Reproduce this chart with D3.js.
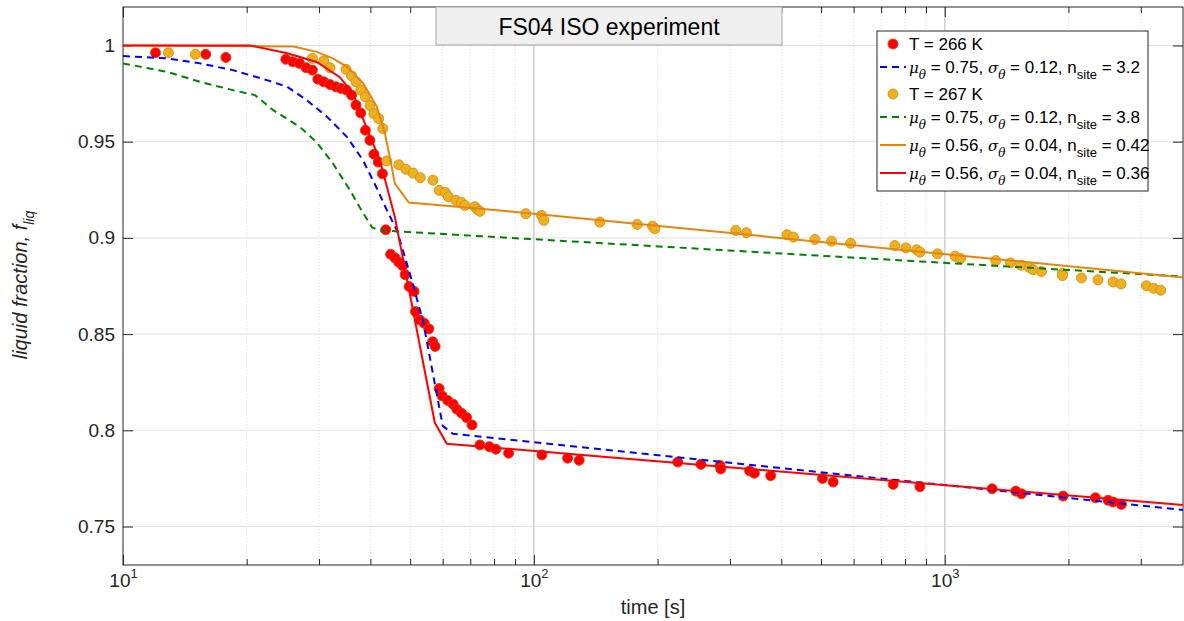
<!DOCTYPE html>
<html>
<head>
<meta charset="utf-8">
<script src="https://cdn.jsdelivr.net/npm/d3@7"></script>
<style>
body{margin:0;background:#fff;}
svg{display:block;font-family:"Liberation Sans",Arial,sans-serif;}
</style>
</head>
<body>
<div id="container"></div>
<script>
// measured points, T = 266 K
const t266 = [12.0,15.9,17.8,24.9,25.9,26.9,27.9,28.9,29.8,30.8,31.9,33.0,33.9,35.0,36.0,36.9,37.9,38.9,39.9,40.8,41.8,42.8,43.6,44.8,45.9,46.9,47.9,48.6,49.7,51.1,51.5,52.8,54.1,55.5,56.7,57.5,58.8,59.8,61.7,63.6,64.9,66.7,68.6,70.7,73.9,77.9,80.8,86.8,104.6,120.8,128.9,224,255,284,285,335,344,377,504,535,749,870,1304,1488,1537,1941,2326,2497,2568,2691];
const f266 = [0.9962,0.9954,0.9938,0.9928,0.9915,0.9907,0.9884,0.9872,0.9825,0.9811,0.9797,0.9785,0.9777,0.9768,0.9742,0.9690,0.9649,0.9559,0.9507,0.9435,0.9394,0.9333,0.9042,0.8915,0.8896,0.8873,0.8856,0.8809,0.8747,0.8722,0.8617,0.8573,0.8556,0.8527,0.8460,0.8436,0.8217,0.8179,0.8155,0.8136,0.8110,0.8089,0.8066,0.8028,0.7924,0.7915,0.7902,0.7881,0.7872,0.7855,0.7844,0.7835,0.7823,0.7817,0.7799,0.7789,0.7777,0.7764,0.7750,0.7731,0.7719,0.7707,0.7696,0.7684,0.7670,0.7658,0.7649,0.7636,0.7627,0.7615];

// measured points, T = 267 K
const t267 = [12.9,15.0,28.9,30.8,31.9,34.9,36.0,36.9,37.9,38.9,39.9,40.8,41.9,42.9,43.8,46.9,48.8,50.8,52.9,56.8,58.8,60.9,61.9,64.6,66.7,67.9,71.8,72.8,73.9,95.6,104.4,105.8,144.7,178.4,194.5,197.0,310,329,413,428,483,530,590,756,804,854,870,960,1060,1092,1331,1445,1533,1604,1640,1719,1934,1934,2151,2360,2568,2685,3096,3225,3354];
const f267 = [0.9962,0.9954,0.9933,0.9920,0.9884,0.9876,0.9842,0.9811,0.9768,0.9733,0.9688,0.9646,0.9620,0.9568,0.9400,0.9380,0.9357,0.9337,0.9313,0.9300,0.9247,0.9236,0.9214,0.9195,0.9184,0.9169,0.9162,0.9148,0.9138,0.9126,0.9117,0.9091,0.9082,0.9070,0.9061,0.9047,0.9039,0.9027,0.9016,0.9004,0.8992,0.8983,0.8972,0.8960,0.8948,0.8938,0.8926,0.8917,0.8905,0.8893,0.8882,0.8870,0.8858,0.8847,0.8835,0.8825,0.8816,0.8804,0.8792,0.8782,0.8771,0.8761,0.8751,0.8738,0.8728];

// model curves
const tBlueFit = [10,12.8,15.4,18.5,22.4,25.1,28.0,31.4,35.1,38.4,41.5,43.9,46.4,49.9,53.7,57.4,60.0,63.5,3800];
const fBlueFit = [0.9945,0.9933,0.9907,0.9872,0.9820,0.9785,0.9716,0.9629,0.9524,0.9403,0.9257,0.9143,0.9039,0.8815,0.8570,0.8242,0.8023,0.7982,0.7586];
const tGreenFit = [10,12.8,15.4,18.5,20.95,23.2,27.0,29.6,32.4,35.7,37.7,40.4,42.2,3800];
const fGreenFit = [0.9907,0.9863,0.9811,0.9768,0.9742,0.9664,0.9575,0.9497,0.9388,0.9247,0.9158,0.9054,0.9039,0.8799];
const tOrangeFit = [10,26,29.6,32.4,35.1,38.4,41.5,43.4,44.6,45.9,49.6,82.6,3800];
const fOrangeFit = [1.0,0.9995,0.9967,0.9933,0.9889,0.9804,0.9681,0.9544,0.9420,0.9282,0.9184,0.9143,0.8794];
const tRedFit = [10,20.4,25.1,29.6,33.7,36.3,39.2,42.2,45.9,57.4,61.4,3800];
const fRedFit = [1.0,1.0,0.9960,0.9914,0.9835,0.9752,0.9570,0.9403,0.9107,0.8039,0.7930,0.7612];

const yTicks = [0.75,0.8,0.85,0.9,0.95,1];
const xMajor = [10,100,1000];
const xMinor = [20,30,40,50,60,70,80,90,200,300,400,500,600,700,800,900,2000,3000];

const w = 1184, h = 621;
const padL = 123, padR = 1183, padT = 7, padB = 565;

const xScale = d3.scaleLog().domain([10,3800]).range([padL,padR]);
const yScale = d3.scaleLinear().domain([0.73,1.02]).range([padB,padT]);

const svg = d3.select("#container").append("svg")
  .attr("width", w).attr("height", h);

svg.append("defs").append("clipPath").attr("id","plotclip")
  .append("rect").attr("x",padL).attr("y",padT).attr("width",padR-padL).attr("height",padB-padT);

// grid
const grid = svg.append("g");
grid.selectAll(".gy").data(yTicks).enter().append("line")
  .attr("x1",padL).attr("x2",padR)
  .attr("y1",d=>yScale(d)).attr("y2",d=>yScale(d))
  .attr("stroke","#e1e1e1").attr("stroke-width",1);
grid.selectAll(".gxm").data(xMinor).enter().append("line")
  .attr("x1",d=>xScale(d)).attr("x2",d=>xScale(d))
  .attr("y1",padT).attr("y2",padB)
  .attr("stroke","#dadada").attr("stroke-width",1).attr("stroke-dasharray","1,2");
grid.selectAll(".gxM").data(xMajor.slice(1)).enter().append("line")
  .attr("x1",d=>xScale(d)).attr("x2",d=>xScale(d))
  .attr("y1",padT).attr("y2",padB)
  .attr("stroke","#d2d2d2").attr("stroke-width",1.6);

// axes
const axisColor = "#262626";
function styleAxis(g){
  g.select(".domain").remove();
  g.selectAll(".tick line").attr("stroke",axisColor);
  g.selectAll("text").attr("fill",axisColor).attr("font-family","Liberation Sans, Arial, sans-serif");
}
svg.append("g").attr("transform","translate(0,"+padB+")")
  .call(d3.axisBottom(xScale).tickValues(xMinor).tickSize(-6).tickFormat(""))
  .call(styleAxis);
const xAx = svg.append("g").attr("transform","translate(0,"+padB+")")
  .call(d3.axisBottom(xScale).tickValues(xMajor).tickSize(-10).tickPadding(22).tickFormat(d=>"10"))
  .call(styleAxis);
xAx.selectAll(".tick text").attr("font-size",19).attr("dy",null)
  .append("tspan").attr("dy",-9).attr("font-size",13).text(d=>Math.round(Math.log10(d)));
svg.append("g").attr("transform","translate(0,"+padT+")")
  .call(d3.axisTop(xScale).tickValues(xMinor).tickSize(-6).tickFormat(""))
  .call(styleAxis);
svg.append("g").attr("transform","translate(0,"+padT+")")
  .call(d3.axisTop(xScale).tickValues(xMajor).tickSize(-10).tickFormat(""))
  .call(styleAxis);
svg.append("g").attr("transform","translate("+padL+",0)")
  .call(d3.axisLeft(yScale).tickValues(yTicks).tickSize(-10).tickPadding(8).tickFormat(d=>String(d)))
  .call(styleAxis)
  .selectAll("text").attr("font-size",19);
svg.append("g").attr("transform","translate("+padR+",0)")
  .call(d3.axisRight(yScale).tickValues(yTicks).tickSize(-10).tickFormat(""))
  .call(styleAxis);

svg.append("rect").attr("x",padL).attr("y",padT).attr("width",padR-padL).attr("height",padB-padT)
  .attr("fill","none").attr("stroke",axisColor).attr("stroke-width",1);

// series
const plot = svg.append("g").attr("clip-path","url(#plotclip)");
const line = d3.line().x(d=>xScale(d[0])).y(d=>yScale(d[1]));
const zip = (a,b) => a.map((v,i)=>[v,b[i]]);

function dots(ts, fs, fill, stroke){
  plot.append("g").selectAll("circle").data(zip(ts,fs)).enter().append("circle")
    .attr("cx",d=>xScale(d[0])).attr("cy",d=>yScale(d[1])).attr("r",5)
    .attr("fill",fill).attr("stroke",stroke).attr("stroke-width",0.9);
}
function curve(ts, fs, color, dash){
  plot.append("path").datum(zip(ts,fs)).attr("d",line)
    .attr("fill","none").attr("stroke",color).attr("stroke-width",2)
    .attr("stroke-dasharray",dash ? "7,5" : null);
}

const redDot = "#ff0000", redEdge = "#e03a0c";
const orDot = "#edb120", orEdge = "#d98c17";
const blue = "#0000ff", green = "#008000", orange = "#e6850e", red = "#ff0000";

dots(t266, f266, redDot, redEdge);
curve(tBlueFit, fBlueFit, blue, true);
dots(t267, f267, orDot, orEdge);
curve(tGreenFit, fGreenFit, green, true);
curve(tOrangeFit, fOrangeFit, orange, false);
curve(tRedFit, fRedFit, red, false);

// title box
svg.append("rect").attr("x",436).attr("y",7).attr("width",346).attr("height",38)
  .attr("fill","#f0f0f0").attr("stroke","#a6a6a6").attr("stroke-width",1);
svg.append("text").attr("x",609).attr("y",35).attr("text-anchor","middle")
  .attr("font-size",23).attr("fill","#000").text("FS04 ISO experiment");

// axis labels
svg.append("text").attr("x",(padL+padR)/2).attr("y",614).attr("text-anchor","middle")
  .attr("font-size",20).attr("fill",axisColor).text("time [s]");
const yl = svg.append("text").attr("transform","translate(27,285) rotate(-90)")
  .attr("text-anchor","middle").attr("font-size",20).attr("font-style","italic").attr("fill",axisColor);
yl.append("tspan").text("liquid fraction, f");
yl.append("tspan").attr("dy",7).attr("font-size",14).text("liq");

// legend
const legendItems = [
  {kind:"dot", fill:redDot, stroke:redEdge, label:"T = 266 K"},
  {kind:"line", color:blue, dash:true, mu:"0.75", sigma:"0.12", n:"3.2"},
  {kind:"dot", fill:orDot, stroke:orEdge, label:"T = 267 K"},
  {kind:"line", color:green, dash:true, mu:"0.75", sigma:"0.12", n:"3.8"},
  {kind:"line", color:orange, dash:false, mu:"0.56", sigma:"0.04", n:"0.42"},
  {kind:"line", color:red, dash:false, mu:"0.56", sigma:"0.04", n:"0.36"}
];
const rowY = [44,67,94,117,145,173];
const lg = svg.append("g");
lg.append("rect").attr("x",877).attr("y",31).attr("width",271).attr("height",160)
  .attr("fill","#fff").attr("stroke",axisColor).attr("stroke-width",1);
legendItems.forEach((it,i)=>{
  const y = rowY[i];
  if (it.kind=="dot"){
    lg.append("circle").attr("cx",893).attr("cy",y).attr("r",5)
      .attr("fill",it.fill).attr("stroke",it.stroke).attr("stroke-width",0.9);
    lg.append("text").attr("x",909).attr("y",y+6).attr("font-size",17).attr("fill","#000").text(it.label);
  } else {
    lg.append("line").attr("x1",880).attr("x2",906).attr("y1",y).attr("y2",y)
      .attr("stroke",it.color).attr("stroke-width",2).attr("stroke-dasharray",it.dash ? "7,5" : null);
    const tx = lg.append("text").attr("x",909).attr("y",y+6).attr("font-size",17).attr("fill","#000");
    tx.append("tspan").attr("font-style","italic").attr("font-family","DejaVu Serif, serif").attr("font-size",15).text("μ");
    tx.append("tspan").attr("font-style","italic").attr("font-family","DejaVu Serif, serif").attr("font-size",12).attr("dy",6).text("θ");
    tx.append("tspan").attr("dy",-6).text(" = " + it.mu + ", ");
    tx.append("tspan").attr("font-style","italic").attr("font-family","DejaVu Serif, serif").attr("font-size",15).text("σ");
    tx.append("tspan").attr("font-style","italic").attr("font-family","DejaVu Serif, serif").attr("font-size",12).attr("dy",6).text("θ");
    tx.append("tspan").attr("dy",-6).text(" = " + it.sigma + ", n");
    tx.append("tspan").attr("font-size",13).attr("dy",6).text("site");
    tx.append("tspan").attr("dy",-6).text(" = " + it.n);
  }
});
</script>
</body>
</html>
